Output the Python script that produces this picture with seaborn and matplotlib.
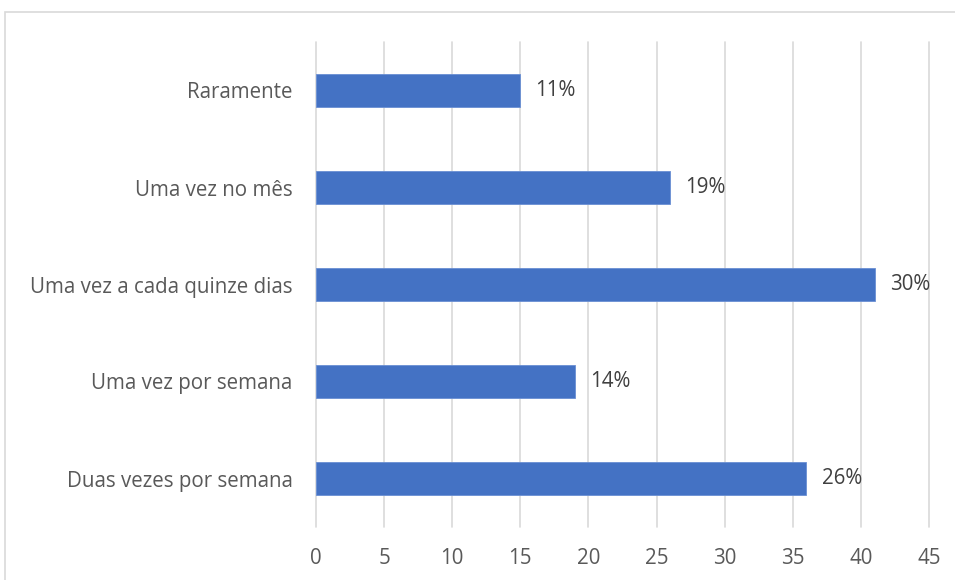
import matplotlib
matplotlib.use("Agg")
import matplotlib.pyplot as plt
from matplotlib.patches import Rectangle
import seaborn as sns
import pandas as pd

categories = [
    "Raramente",
    "Uma vez no mês",
    "Uma vez a cada quinze dias",
    "Uma vez por semana",
    "Duas vezes por semana",
]
counts = [15, 26, 41, 19, 36]
x_ticks = [0, 5, 10, 15, 20, 25, 30, 35, 40, 45]

total = sum(counts)
percent_labels = [f"{round(100 * c / total)}%" for c in counts]

df = pd.DataFrame({"categoria": categories, "respostas": counts})

sns.set_theme(style="white")
plt.rcParams["font.family"] = ["Open Sans", "DejaVu Sans"]

FS = 14.8

fig = plt.figure(figsize=(9.55, 5.8), dpi=100)
ax = fig.add_axes([316 / 955, 1 - 527 / 580, 613 / 955, 485 / 580])

sns.barplot(data=df, x="respostas", y="categoria", order=categories,
            color="#4472C4", saturation=1, width=0.35, orient="h", ax=ax,
            edgecolor="#6a8fd3", linewidth=0.6, zorder=3)

ax.set_xlim(0, 45)
ax.set_xticks(x_ticks)
ax.set_xticklabels([str(t) for t in x_ticks], fontsize=FS, color="#595959")
ax.set_ylim(4.5, -0.5)
ax.tick_params(axis="y", labelsize=FS, labelcolor="#595959", length=0, pad=17)
ax.tick_params(axis="x", length=0, pad=15)
ax.set_xlabel("")
ax.set_ylabel("")
for s in ax.spines.values():
    s.set_visible(False)
ax.grid(axis="x", color="#d9d9d9", linewidth=1.2, zorder=0)
ax.grid(axis="y", visible=False)
ax.set_axisbelow(True)
for gl in ax.get_xgridlines():
    gl.set_clip_on(False)

for i, (c, lab) in enumerate(zip(counts, percent_labels)):
    ax.annotate(lab, xy=(c, i), xytext=(11, 0), textcoords="offset points",
                ha="left", va="center", fontsize=FS, color="#404040")

# light frame around the chart area
fig.patches.append(Rectangle((5 / 955, -0.05), 1.1, 1 - 12 / 580 + 0.05,
                             transform=fig.transFigure, fill=False,
                             edgecolor="#d9d9d9", linewidth=1.2))

fig.savefig("out.png", dpi=100, facecolor="white")
